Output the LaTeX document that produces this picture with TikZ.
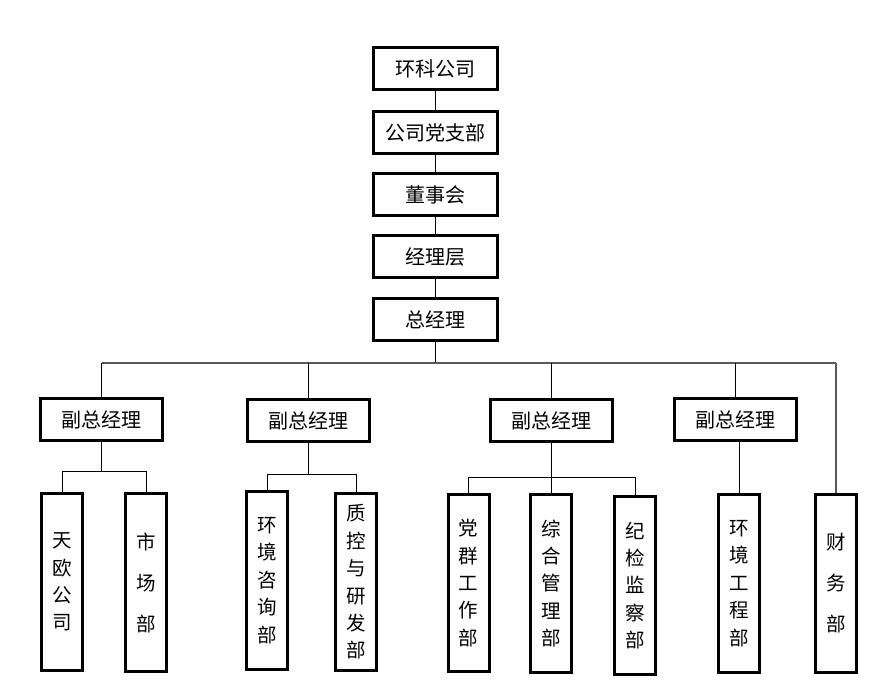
\documentclass[tikz,border=0pt]{standalone}
\usepackage{fontspec}
\newfontfamily\cjk{Noto Sans CJK SC}
\begin{document}
\begin{tikzpicture}[x=1pt,y=-1pt,
  hbox/.style={draw=black,line width=3pt,inner sep=0pt,minimum width=122pt,minimum height=42pt,font={\cjk\fontsize{20}{20}\selectfont}},
  topbox/.style={hbox,minimum width=124pt},
  vbox/.style={draw=black,line width=3pt,inner sep=0pt,minimum width=41pt,minimum height=177pt,align=center,font={\cjk\fontsize{19.5}{27.4}\selectfont}},
  vwide/.style={vbox,font={\cjk\fontsize{19.5}{41}\selectfont}},
  conn/.style={draw=black,line width=1pt},
  busline/.style={draw=black!65,line width=1.4pt}]
\useasboundingbox (0,0) rectangle (884,684);
\fill[white] (0,0) rectangle (884,684);
% top chain
\node[topbox] (hk) at (435.5,68.5) {环科公司};
\node[topbox] (dzb) at (435.5,132.5) {公司党支部};
\node[topbox] (dsh) at (435.5,195) {董事会};
\node[topbox] (jlc) at (435.5,256.5) {经理层};
\node[topbox] (zjl) at (435.5,319.5) {总经理};
\draw[conn] (hk.south) -- (dzb.north);
\draw[conn] (dzb.south) -- (dsh.north);
\draw[conn] (dsh.south) -- (jlc.north);
\draw[conn] (jlc.south) -- (zjl.north);
% deputies
\node[hbox] (f1) at (101.5,419.5) {副总经理};
\node[hbox] (f2) at (308,421) {副总经理};
\node[hbox] (f3) at (551,420.5) {副总经理};
\node[hbox] (f4) at (735,419.5) {副总经理};
% departments
\node[vbox] (ty) at (62,582) {天\\欧\\公\\司};
\node[vwide] (sc) at (146,582.5) {市\\场\\部};
\node[vbox] (hz) at (267,580.5) {环\\境\\咨\\询\\部};
\node[vbox] (zk) at (356,582) {质\\控\\与\\研\\发\\部};
\node[vbox] (dq) at (468.5,583) {党\\群\\工\\作\\部};
\node[vbox] (zh) at (551,583.5) {综\\合\\管\\理\\部};
\node[vbox] (jj) at (635,585.5) {纪\\检\\监\\察\\部};
\node[vbox] (hg) at (739,583.5) {环\\境\\工\\程\\部};
\node[vwide] (cw) at (836,583.5) {财\\务\\部};
% main bus
\coordinate (bus) at (0,363);
\draw[conn] (zjl.south) -- (zjl.south |- bus);
\draw[busline] (f1.north |- bus) -- (cw.north |- bus);
\draw[conn] (f1.north) -- (f1.north |- bus);
\draw[conn] (f2.north) -- (f2.north |- bus);
\draw[conn] (f3.north) -- (f3.north |- bus);
\draw[conn] (f4.north) -- (f4.north |- bus);
\draw[busline] (cw.north |- bus) -- (cw.north);
% group 1
\coordinate (b1) at (0,472);
\draw[conn] (f1.south) -- (f1.south |- b1);
\draw[conn] (ty.north) |- (f1.south |- b1);
\draw[conn] (sc.north) |- (f1.south |- b1);
% group 2
\coordinate (b2) at (0,475);
\draw[conn] (f2.south) -- (f2.south |- b2);
\draw[conn] (hz.north) |- (f2.south |- b2);
\draw[conn] (zk.north) |- (f2.south |- b2);
% group 3
\coordinate (b3) at (0,478);
\draw[conn] (f3.south) -- (zh.north);
\draw[conn] (dq.north) |- (f3.south |- b3);
\draw[conn] (jj.north) |- (f3.south |- b3);
% group 4
\draw[conn] (f4.south -| hg.north) -- (hg.north);
\end{tikzpicture}
\end{document}
